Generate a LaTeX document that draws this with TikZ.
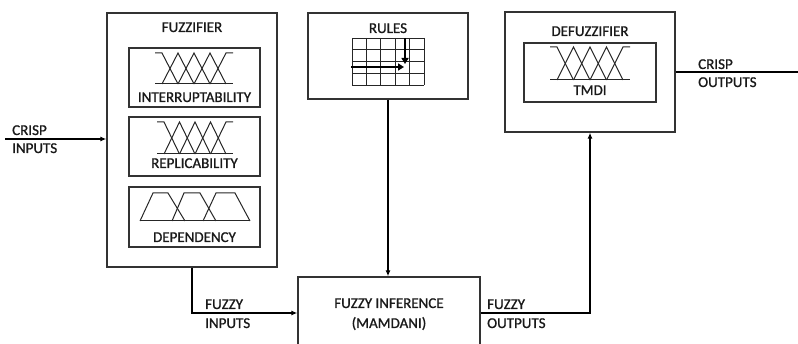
\documentclass[tikz,border=0pt]{standalone}
\usepackage{fontspec}
\setmainfont{Carlito}
\newfontfamily\lblfont{Carlito}[BoldFont=Carlito, BoldFeatures={FakeBold=1}]
\usetikzlibrary{arrows.meta}
\newcommand\mfrow[4]{% x0 x1 top bot
  \pgfmathsetmacro\pa{#1+7}\pgfmathsetmacro\pe{#2-7}%
  \pgfmathsetmacro\dd{(\pe-\pa)/4}%
  \pgfmathsetmacro\pb{\pa+\dd}\pgfmathsetmacro\pc{\pa+2*\dd}\pgfmathsetmacro\pd{\pa+3*\dd}%
  \draw[mf] (#1,#3) -- (\pa,#3) -- (\pb,#4);
  \draw[mf] (\pa,#4) -- (\pb,#3) -- (\pc,#4);
  \draw[mf] (\pb,#4) -- (\pc,#3) -- (\pd,#4);
  \draw[mf] (\pc,#4) -- (\pd,#3) -- (\pe,#4);
  \draw[mf] (\pd,#4) -- (\pe,#3) -- (#2,#3);
  \draw[mf] (#1,#4) -- (#2,#4);
}
\begin{document}
\begin{tikzpicture}[x=1pt,y=-1pt,
  box/.style={draw=black!80, line width=1.3pt, inner sep=0pt},
  lbl/.style={font=\lblfont\bfseries\fontsize{15}{17}\selectfont, inner sep=0pt, text height=10pt, text depth=0pt, text=black!90},
  side/.style={lbl, anchor=west},
  conn/.style={line width=1.6pt, -{Latex[length=6pt,width=5pt]}},
  mf/.style={line width=1pt, black!85},
  gridl/.style={line width=0.9pt, black!85},
  bigarr/.style={line width=2.6pt, -{Triangle[length=6pt,width=7pt]}}
]
\clip (0,0) rectangle (798,344);
\useasboundingbox (0,0) rectangle (798,344);

% main boxes
\node[box, minimum width=170pt, minimum height=254pt] (fuzz) at (192,140) {};
\node[box, minimum width=131pt, minimum height=59pt] (b1) at (194.5,77.5) {};
\node[box, minimum width=131pt, minimum height=59pt] (b2) at (194.5,146.5) {};
\node[box, minimum width=131pt, minimum height=60pt] (b3) at (194.5,217) {};
\node[box, minimum width=160pt, minimum height=86pt] (rules) at (388,56) {};
\node[box, minimum width=170pt, minimum height=120pt] (defuzz) at (590,72) {};
\node[box, minimum width=132pt, minimum height=59pt] (b4) at (590,72.5) {};
\node[box, minimum width=182pt, minimum height=93pt] (infer) at (389,323.5) {};

% titles and inner labels
\node[lbl] (tfuzz) at (192,27) {FUZZIFIER};
\node[lbl] (t1) at (194.5,97) {INTERRUPTABILITY};
\node[lbl] (t2) at (194.5,163) {REPLICABILITY};
\node[lbl] (t3) at (194.5,237) {DEPENDENCY};
\node[lbl] (trules) at (388,28) {RULES};
\node[lbl] (tdef) at (590,31) {DEFUZZIFIER};
\node[lbl] (t4) at (590,90) {TMDI};
\node[lbl] (tinf1) at (389,303) {FUZZY INFERENCE};
\node[lbl] (tinf2) at (389,323) {(MAMDANI)};

% membership functions
\mfrow{155}{233}{53}{84}
\mfrow{157}{233}{122}{154}
\mfrow{550}{630}{47}{80}
% trapezoids
\draw[mf] (140,221) -- (153,193) -- (168,193) -- (185,221);
\draw[mf] (172,221) -- (184,193) -- (200,193) -- (216,221);
\draw[mf] (203,221) -- (216,193) -- (235,193) -- (250,221);
\draw[mf] (140,221) -- (250,221);

% rules grid
\foreach \i in {0,...,5} \draw[gridl] (352+\i*14.4,38) -- (352+\i*14.4,85);
\foreach \j in {0,...,4} \draw[gridl] (352,38+\j*11.75) -- (424,38+\j*11.75);
\draw[bigarr] (351,67) -- (404,67);
\draw[bigarr] (405,38) -- (405,64);

% connectors
\coordinate (cin) at (5,139);
\coordinate (cout) at (798,72);
\draw[conn] (cin) -- (cin -| fuzz.west);
\draw[conn] (rules.south) -- (rules.south |- infer.north);
\draw[conn] (fuzz.south) |- ([yshift=10.5pt]infer.west);
\draw[conn] ([yshift=10.5pt]infer.east) -| (defuzz.south);
\draw[line width=1.6pt] (defuzz.east) -- (cout);

% connector labels
\node[side] (ci1) at (12,130) {CRISP};
\node[side] (ci2) at (12,148) {INPUTS};
\node[side] (co1) at (698,64) {CRISP};
\node[side] (co2) at (698,82) {OUTPUTS};
\node[side] (fi1) at (205,304) {FUZZY};
\node[side] (fi2) at (205,323) {INPUTS};
\node[side] (fo1) at (487,304) {FUZZY};
\node[side] (fo2) at (487,323) {OUTPUTS};
\end{tikzpicture}
\end{document}
